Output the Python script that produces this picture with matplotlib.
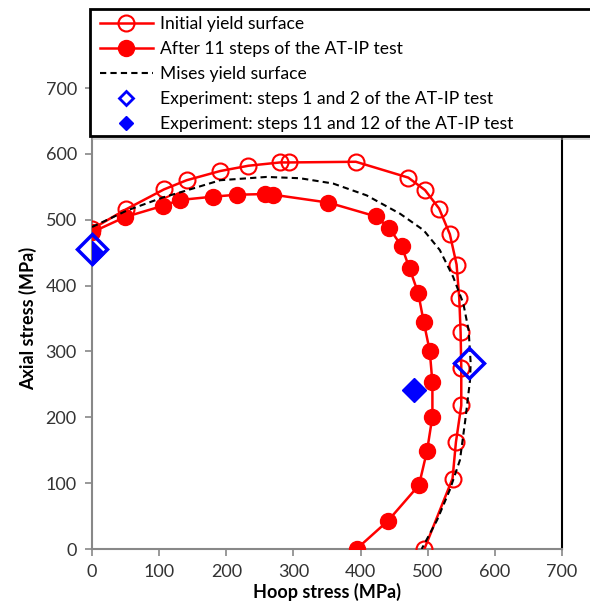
import numpy as np
import matplotlib.pyplot as plt
from matplotlib.patches import Rectangle

plt.rcParams['font.family'] = ['Lato', 'DejaVu Sans']

# Initial yield surface (open circles)
init_hoop = [0, 51, 107, 141, 191, 233, 280, 294, 393, 471, 496, 517, 533, 543, 547,
             549, 550, 550, 542, 537, 495]
init_axial = [486, 516, 546, 560, 574, 582, 587, 587, 588, 564, 545, 517, 478, 432, 381,
              329, 275, 218, 162, 107, 0]

# After 11 steps of the AT-IP test (filled circles)
after_hoop = [0, 49, 105, 131, 180, 216, 258, 270, 352, 423, 443, 461, 473, 486, 494,
              503, 507, 507, 499, 487, 441, 394]
after_axial = [481, 504, 521, 530, 535, 538, 539, 538, 526, 505, 487, 460, 426, 388, 345,
               301, 253, 201, 149, 97, 43, 0]

# Mises yield surface (dashed)
mises_hoop = [0, 52, 106, 136, 191, 260, 310, 359, 409, 459, 494, 518, 538, 553, 561,
              564, 563, 556, 548, 533, 514, 491]
mises_axial = [489, 514, 534, 543, 560, 565, 563, 555, 537, 509, 484, 454, 413, 373, 332,
               282, 256, 196, 135, 90, 44, 0]

# Experiments
exp1_hoop = [0, 562]
exp1_axial = [455, 282]
exp2_hoop = [0, 480]
exp2_axial = [450, 241]

labels = ["Initial yield surface",
          "After 11 steps of the AT-IP test",
          "Mises yield surface",
          "Experiment: steps 1 and 2 of the AT-IP test",
          "Experiment: steps 11 and 12 of the AT-IP test"]

W, H = 590, 613
fig = plt.figure(figsize=(W / 100, H / 100), dpi=100)
ax = fig.add_axes([0.156, 0.1044, 0.7965, 0.752])

red = "#ff0000"
blue = "#0000ff"
h1, = ax.plot(init_hoop, init_axial, color=red, lw=1.8, marker="o", ms=11.5,
              mfc="none", mec=red, mew=1.5, zorder=3)
h2, = ax.plot(after_hoop, after_axial, color=red, lw=1.8, marker="o", ms=11.5,
              mfc=red, mec=red, zorder=3)
h3, = ax.plot(mises_hoop, mises_axial, color="black", lw=1.5, ls=(0, (3, 2)), zorder=4)
h5, = ax.plot(exp2_hoop, exp2_axial, ls="none", marker="D", ms=12, mfc=blue, mec=blue,
              zorder=5)
h4, = ax.plot(exp1_hoop, exp1_axial, ls="none", marker="D", ms=15, mfc="none", mec=blue,
              mew=2.5, zorder=6, clip_on=False)

ax.set_xlim(0, 700)
ax.set_ylim(0, 700)
ax.set_xticks(range(0, 701, 100))
ax.set_yticks(range(0, 701, 100))
ax.tick_params(direction="out", length=5, width=1.2, color="#888888", labelsize=13,
               labelcolor="#333333", pad=6)
for s in ["left", "bottom"]:
    ax.spines[s].set_color("#888888")
    ax.spines[s].set_linewidth(1.5)
for s in ["right", "top"]:
    ax.spines[s].set_color("black")
    ax.spines[s].set_linewidth(1.5)
for line in ax.get_xticklines() + ax.get_yticklines():
    line.set_clip_on(False)

ax.set_xlabel("Hoop stress (MPa)", fontsize=13, fontweight="bold", labelpad=2)
ax.set_ylabel("Axial stress (MPa)", fontsize=13, fontweight="bold", labelpad=6)

# legend box running off the right edge, with a soft shadow
x0, y0, x1, y1 = 90, 9, 620, 136
shadow = Rectangle((x0 / W + 0.004, 1 - (y1 + 4) / H), (x1 - x0) / W, (y1 - y0) / H,
                   transform=fig.transFigure, facecolor="#aaaaaa", alpha=0.5,
                   edgecolor="none", zorder=2)
box = Rectangle((x0 / W, 1 - y1 / H), (x1 - x0) / W, (y1 - y0) / H,
                transform=fig.transFigure, facecolor="white", edgecolor="black",
                linewidth=2, zorder=3)
fig.patches.extend([shadow, box])

leg_h4, = ax.plot([], [], ls="none", marker="D", ms=7, mfc="none", mec=blue, mew=2)
leg_h5, = ax.plot([], [], ls="none", marker="D", ms=7, mfc=blue, mec=blue)
leg = fig.legend([h1, h2, h3, leg_h4, leg_h5], labels, loc="upper left",
                 bbox_to_anchor=(100 / W, 1 - 16 / H), fontsize=12.6, frameon=False,
                 handlelength=3.0, handletextpad=0.45, labelspacing=0.52,
                 borderpad=0, borderaxespad=0)
leg.set_zorder(5)

fig.savefig("out.png", dpi=100)
